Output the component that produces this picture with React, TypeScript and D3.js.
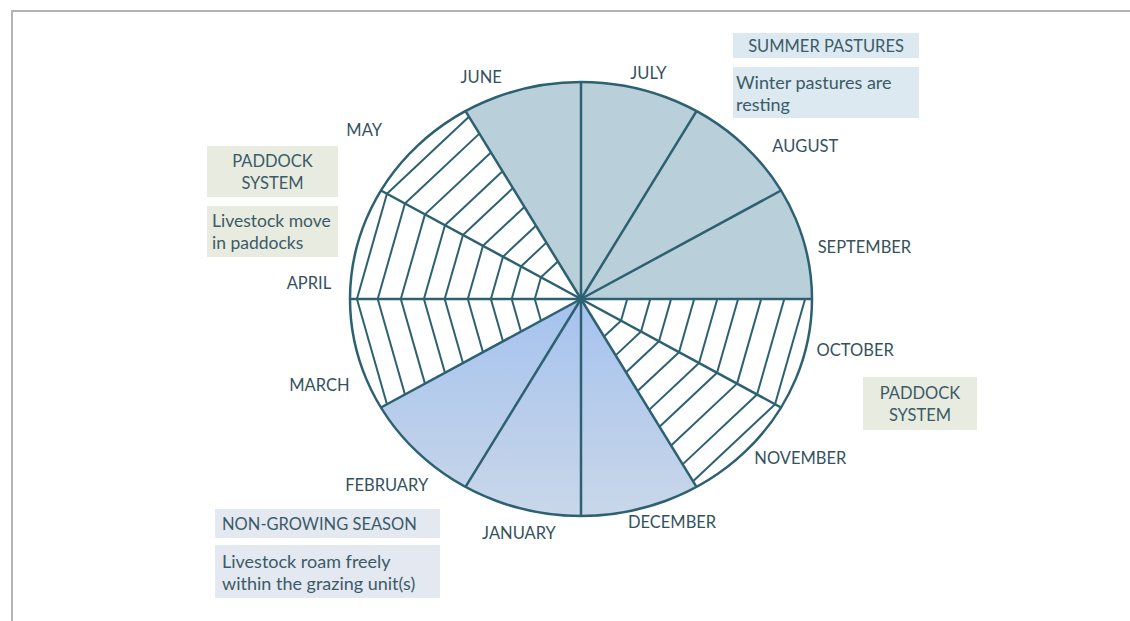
import React, { useEffect, useRef } from "react";
import * as d3 from "d3";

// months clockwise from the top (12 o'clock)
const months = ["JULY", "AUGUST", "SEPTEMBER", "OCTOBER", "NOVEMBER", "DECEMBER",
  "JANUARY", "FEBRUARY", "MARCH", "APRIL", "MAY", "JUNE"];
const phases = ["summer", "summer", "summer", "paddock", "paddock", "winter",
  "winter", "winter", "paddock", "paddock", "paddock", "summer"];
// web lines drawn in the paddock months, as fraction of radius
const hatchRadii = [0.2, 0.3, 0.39, 0.49, 0.59, 0.68, 0.78, 0.88, 0.97];

const summerTitle = ["SUMMER PASTURES"];
const summerNote = ["Winter pastures are", "resting"];
const paddockTitle = ["PADDOCK", "SYSTEM"];
const paddockNote = ["Livestock move", "in paddocks"];
const winterTitle = ["NON-GROWING SEASON"];
const winterNote = ["Livestock roam freely", "within the grazing unit(s)"];

// label placement: [angle in degrees, distance in radii]
const labelLayout: [number, number][] = [
  [15.7, 1.08], [54, 1.2], [79, 1.25], [101.2, 1.21], [127.7, 1.2], [159, 1.1],
  [194, 1.11], [224.5, 1.2], [250.7, 1.2], [273.6, 1.18], [309.7, 1.22], [337.1, 1.11],
];

const notes = [
  { lines: summerTitle, x: 733, y: 33, w: 186, h: 25, fill: "#dce9f0", align: "middle", size: 16.5, pad: 0 },
  { lines: summerNote, x: 733, y: 67, w: 186, h: 51, fill: "#dce9f0", align: "start", size: 18, pad: 3 },
  { lines: paddockTitle, x: 207, y: 146, w: 131, h: 51, fill: "#e8ebdf", align: "middle", size: 16.5, pad: 0 },
  { lines: paddockNote, x: 207, y: 206, w: 131, h: 51, fill: "#e8ebdf", align: "start", size: 17.5, pad: 5 },
  { lines: paddockTitle, x: 863, y: 377, w: 114, h: 53, fill: "#e8ebdf", align: "middle", size: 16.5, pad: 0 },
  { lines: winterTitle, x: 215, y: 509, w: 225, h: 29, fill: "#e3e8f1", align: "start", size: 16.5, pad: 7 },
  { lines: winterNote, x: 215, y: 545, w: 225, h: 53, fill: "#e3e8f1", align: "start", size: 18, pad: 7 },
];

const App = () => {
  const svgRef = useRef<SVGSVGElement>(null);
  const width = 1130;
  const height = 621;

  useEffect(() => {
    const svg = d3.select(svgRef.current);
    svg.selectAll("*").remove();

    const cx = 581, cy = 299, rx = 231, ry = 217;
    const stroke = "#2d6172";
    const font = "Lato, 'Open Sans', sans-serif";

    const x = d3.scaleLinear().domain([-1, 1]).range([cx - rx, cx + rx]);
    const y = d3.scaleLinear().domain([-1, 1]).range([cy - ry, cy + ry]);
    const angle = d3.scaleLinear().domain([0, months.length]).range([0, 2 * Math.PI]);
    const pt = (a: number, r: number): [number, number] => [x(r * Math.sin(a)), y(-r * Math.cos(a))];

    // frame
    svg.append("path")
      .attr("d", `M12,${height} L12,11 L${width},11`)
      .attr("fill", "none").attr("stroke", "#b4b4b4").attr("stroke-width", 2);

    const defs = svg.append("defs");
    const grad = defs.append("linearGradient").attr("id", "winterGrad")
      .attr("gradientUnits", "userSpaceOnUse")
      .attr("x1", 0).attr("y1", cy).attr("x2", 0).attr("y2", cy + ry);
    grad.append("stop").attr("offset", 0).attr("stop-color", "#a5c2ee");
    grad.append("stop").attr("offset", 1).attr("stop-color", "#c9d7e9");

    const fillFor = (p: string) =>
      p === "summer" ? "#b9cfd9" : p === "winter" ? "url(#winterGrad)" : "#ffffff";

    const line = d3.line();
    const sector = (i: number) => {
      const a0 = angle(i), a1 = angle(i + 1);
      const arc = d3.range(0, 41).map((k) => pt(a0 + ((a1 - a0) * k) / 40, 1));
      return line([[x(0), y(0)], ...arc]) + "Z";
    };

    const g = svg.append("g");
    g.selectAll("path.sector")
      .data(months)
      .enter()
      .append("path")
      .attr("class", "sector")
      .attr("d", (_, i) => sector(i))
      .attr("fill", (_, i) => fillFor(phases[i]));

    // web hatching in the paddock months
    months.forEach((_, i) => {
      if (phases[i] !== "paddock") return;
      g.selectAll(null)
        .data(hatchRadii)
        .enter()
        .append("line")
        .attr("x1", (r) => pt(angle(i), r)[0])
        .attr("y1", (r) => pt(angle(i), r)[1])
        .attr("x2", (r) => pt(angle(i + 1), r)[0])
        .attr("y2", (r) => pt(angle(i + 1), r)[1])
        .attr("stroke", stroke)
        .attr("stroke-width", 2);
    });

    // spokes
    g.selectAll("line.spoke")
      .data(months)
      .enter()
      .append("line")
      .attr("class", "spoke")
      .attr("x1", x(0)).attr("y1", y(0))
      .attr("x2", (_, i) => pt(angle(i), 1)[0])
      .attr("y2", (_, i) => pt(angle(i), 1)[1])
      .attr("stroke", stroke)
      .attr("stroke-width", 2.5);

    g.append("ellipse")
      .attr("cx", x(0)).attr("cy", y(0))
      .attr("rx", x(1) - x(0)).attr("ry", y(1) - y(0))
      .attr("fill", "none").attr("stroke", stroke).attr("stroke-width", 2.5);

    // month labels
    svg.selectAll("text.month")
      .data(months)
      .enter()
      .append("text")
      .attr("class", "month")
      .attr("x", (_, i) => pt((labelLayout[i][0] * Math.PI) / 180, labelLayout[i][1])[0])
      .attr("y", (_, i) => pt((labelLayout[i][0] * Math.PI) / 180, labelLayout[i][1])[1])
      .attr("text-anchor", "middle")
      .attr("dominant-baseline", "central")
      .attr("font-family", font)
      .attr("font-size", 16.5)
      .attr("fill", "#34525d")
      .text((d) => d);

    // note boxes
    notes.forEach((n) => {
      const ng = svg.append("g");
      ng.append("rect")
        .attr("x", n.x).attr("y", n.y).attr("width", n.w).attr("height", n.h)
        .attr("fill", n.fill);
      const lh = 22;
      const top = n.y + n.h / 2 - ((n.lines.length - 1) * lh) / 2;
      ng.selectAll("text")
        .data(n.lines)
        .enter()
        .append("text")
        .attr("x", n.align === "middle" ? n.x + n.w / 2 : n.x + n.pad)
        .attr("y", (_, k) => top + k * lh)
        .attr("text-anchor", n.align)
        .attr("dominant-baseline", "central")
        .attr("font-family", font)
        .attr("font-size", n.size)
        .attr("fill", "#3b5b67")
        .text((d) => d);
    });
  }, []);

  return (
    <svg
      ref={svgRef}
      width={width}
      height={height}
      style={{ position: "absolute", left: 0, top: 0, background: "#fff" }}
    />
  );
};

export default App;
